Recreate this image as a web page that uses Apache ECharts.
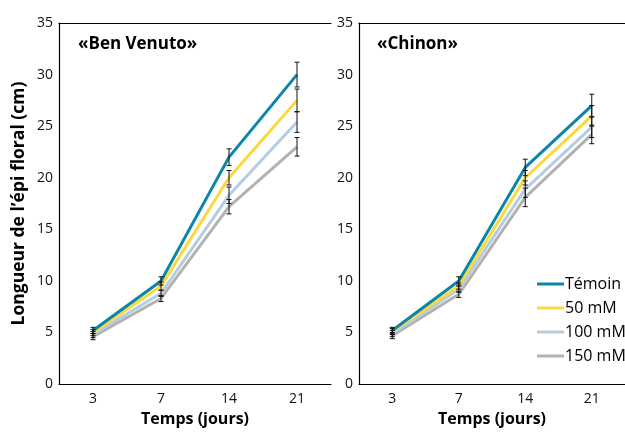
<!DOCTYPE html>
<html><head><meta charset="utf-8">
<script src="https://cdn.jsdelivr.net/npm/echarts@6/dist/echarts.min.js"></script>
<style>html,body{margin:0;padding:0;background:#fff}#c{width:625px;height:432px}</style>
</head><body><div id="c"></div>
<script>
const categories = ['3', '7', '14', '21'];
const seriesNames = ['Témoin', '50 mM', '100 mM', '150 mM'];
const colors = ['#0b86a9', '#fcd83c', '#b5cde0', '#b2b2b2'];
const yTicks = [0, 5, 10, 15, 20, 25, 30, 35];
// «Ben Venuto»
const benTemoin = [5.2, 10.0, 22.0, 30.0];
const ben50 = [5.0, 9.5, 20.0, 27.5];
const ben100 = [4.8, 8.8, 18.3, 25.4];
const ben150 = [4.6, 8.3, 17.2, 23.0];
const benErrTemoin = [0.3, 0.4, 0.8, 1.2];
const benErr50 = [0.3, 0.4, 0.7, 1.1];
const benErr100 = [0.3, 0.3, 0.8, 1.0];
const benErr150 = [0.3, 0.3, 0.7, 0.9];
// «Chinon»
const chiTemoin = [5.2, 10.0, 21.0, 27.0];
const chi50 = [5.1, 9.5, 20.0, 26.0];
const chi100 = [4.9, 9.2, 18.9, 24.9];
const chi150 = [4.7, 8.7, 18.1, 24.2];
const chiErrTemoin = [0.3, 0.4, 0.8, 1.1];
const chiErr50 = [0.3, 0.3, 0.7, 1.0];
const chiErr100 = [0.3, 0.3, 0.8, 1.0];
const chiErr150 = [0.3, 0.3, 0.9, 0.9];

const FONT = "'Open Sans', sans-serif";
const panels = [
  {vals: [benTemoin, ben50, ben100, ben150], errs: [benErrTemoin, benErr50, benErr100, benErr150]},
  {vals: [chiTemoin, chi50, chi100, chi150], errs: [chiErrTemoin, chiErr50, chiErr100, chiErr150]}
];

const grids = [
  {left: 59, top: 23, width: 272, height: 367},
  {left: 359, top: 23, width: 272, height: 367}
];
const xAxes = [], yAxes = [], series = [];
grids.forEach((g, gi) => {
  xAxes.push({
    type: 'category', gridIndex: gi, data: categories, boundaryGap: true,
    axisLine: {lineStyle: {color: '#000', width: 1.2}},
    axisTick: {inside: true, length: 5, lineStyle: {color: '#000', width: 1.2}},
    axisLabel: {color: '#111', fontSize: 14, fontFamily: FONT, margin: 8},
    name: 'Temps (jours)', nameLocation: 'middle', nameGap: 26,
    nameTextStyle: {fontSize: 16, fontWeight: 'bold', color: '#000', fontFamily: FONT}
  });
  xAxes.push({
    type: 'category', gridIndex: gi, position: 'top', data: categories,
    axisLine: {lineStyle: {color: '#000', width: 1.2}},
    axisTick: {show: false}, axisLabel: {show: false}
  });
  yAxes.push({
    type: 'value', gridIndex: gi, min: 0, max: 35, interval: 5,
    axisLine: {show: true, lineStyle: {color: '#000', width: 1.2}},
    axisTick: {show: false}, splitLine: {show: false},
    axisLabel: {color: '#111', fontSize: 14, fontFamily: FONT, margin: 6},
    name: gi === 0 ? 'Longueur de l’épi floral (cm)' : '',
    nameLocation: 'middle', nameGap: 31,
    nameTextStyle: {fontSize: 17.5, fontWeight: 'bold', color: '#000', fontFamily: FONT}
  });
  const p = panels[gi];
  p.vals.forEach((v, si) => {
    series.push({
      name: seriesNames[si], type: 'line', xAxisIndex: gi * 2, yAxisIndex: gi,
      data: v, symbol: 'none', lineStyle: {color: colors[si], width: 3},
      itemStyle: {color: colors[si]}, z: 2 + (3 - si), silent: true
    });
  });
  const errData = [];
  p.vals.forEach((v, si) => v.forEach((val, i) => errData.push([i, val, p.errs[si][i]])));
  series.push({
    type: 'custom', xAxisIndex: gi * 2, yAxisIndex: gi, z: 10, silent: true,
    data: errData,
    renderItem: function (params, api) {
      const x = api.value(0), y = api.value(1), e = api.value(2);
      const hi = api.coord([x, y + e]), lo = api.coord([x, y - e]);
      const w = 2.5;
      const st = {stroke: '#111', lineWidth: 1};
      return {type: 'group', children: [
        {type: 'line', shape: {x1: hi[0], y1: hi[1], x2: lo[0], y2: lo[1]}, style: st},
        {type: 'line', shape: {x1: hi[0] - w, y1: hi[1], x2: hi[0] + w, y2: hi[1]}, style: st},
        {type: 'line', shape: {x1: lo[0] - w, y1: lo[1], x2: lo[0] + w, y2: lo[1]}, style: st}
      ]};
    }
  });
});

const chart = echarts.init(document.getElementById('c'), null, {renderer: 'canvas'});
chart.setOption({
  animation: false,
  title: [
    {text: '«Ben Venuto»', left: 73, top: 31, textStyle: {fontSize: 17, fontWeight: 'bold', color: '#000', fontFamily: FONT}},
    {text: '«Chinon»', left: 372, top: 31, textStyle: {fontSize: 17, fontWeight: 'bold', color: '#000', fontFamily: FONT}}
  ],
  legend: {
    data: seriesNames, orient: 'vertical', left: 532, top: 269,
    icon: 'rect', itemWidth: 27, itemHeight: 3, itemGap: 4,
    textStyle: {fontSize: 16, color: '#000', fontFamily: FONT, lineHeight: 20, padding: [0, 0, 0, -4]},
    selectedMode: false
  },
  grid: grids,
  xAxis: xAxes,
  yAxis: yAxes,
  series: series
});
</script></body></html>
